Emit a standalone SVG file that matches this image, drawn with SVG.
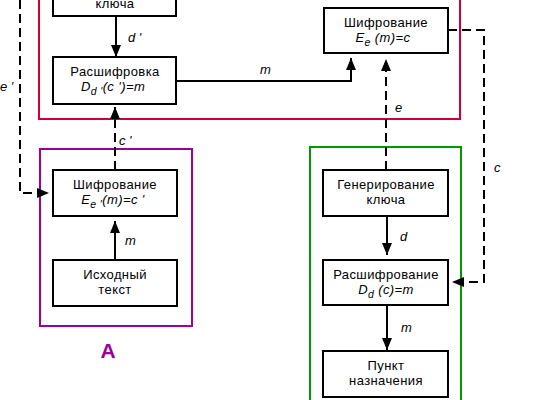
<svg xmlns="http://www.w3.org/2000/svg" width="550" height="400" viewBox="0 0 550 400">
<style>
.box{fill:#fff;stroke:#000;stroke-width:2}
.t{font-family:"Liberation Sans",Arial,sans-serif;font-size:13px;letter-spacing:0.4px;fill:#000;text-anchor:middle}
.i{font-style:italic}
.lbl{font-family:"Liberation Sans",Arial,sans-serif;font-size:13px;font-style:italic;fill:#000}
.c{fill:none;stroke:#000;stroke-width:2}
.d{stroke-dasharray:9,5}
</style>
<defs>
<marker id="ah" viewBox="0 0 12 10" refX="12" refY="5" markerWidth="12" markerHeight="10" markerUnits="userSpaceOnUse" orient="auto">
<path d="M0,0 L12,5 L0,10 z" fill="#000"/>
</marker>
</defs>
<rect x="39" y="-10" width="421" height="129" fill="none" stroke="#cc0033" stroke-width="2"/>
<rect x="40" y="149" width="152" height="177" fill="none" stroke="#990099" stroke-width="2"/>
<rect x="310" y="147" width="151" height="263" fill="none" stroke="#009900" stroke-width="2"/>
<text x="108" y="358" font-family="Liberation Sans,Arial,sans-serif" font-size="21" font-weight="bold" fill="#990099" text-anchor="middle">A</text>
<g id="connectors">
<path class="c" d="M116,16 V57" marker-end="url(#ah)"/>
<path class="c" d="M176,81 H351 V58" marker-end="url(#ah)"/>
<path class="c d" d="M386,170 V59" marker-end="url(#ah)"/>
<path class="c d" d="M448,30 H484 V282 H452" marker-end="url(#ah)"/>
<path class="c d" d="M20,0 V193 H49" marker-end="url(#ah)"/>
<path class="c d" d="M115,170 V107" marker-end="url(#ah)"/>
<path class="c" d="M115,260 V221" marker-end="url(#ah)"/>
<path class="c" d="M387,216 V255" marker-end="url(#ah)"/>
<path class="c" d="M387,305 V350" marker-end="url(#ah)"/>
<text class="lbl" x="128" y="42">d '</text>
<text class="lbl" x="260" y="74">m</text>
<text class="lbl" x="395" y="112">e</text>
<text class="lbl" x="494" y="172">c</text>
<text class="lbl" x="0" y="91">e '</text>
<text class="lbl" x="119" y="145">c '</text>
<text class="lbl" x="125" y="245">m</text>
<text class="lbl" x="400" y="241">d</text>
<text class="lbl" x="401" y="332">m</text>
</g>
<g id="keygenA">
<rect class="box" x="53" y="-30" width="123" height="46"/>
<text class="t" x="115" y="8">ключа</text>
</g>
<g id="decryptB">
<rect class="box" x="53" y="57" width="123" height="47"/>
<text class="t" x="115" y="76">Расшифровка</text>
<text class="t i" x="113" y="91">D<tspan font-size="10.5" dy="4">d '</tspan><tspan dy="-4">(c ')=m</tspan></text>
</g>
<g id="encryptB">
<rect class="box" x="324" y="8" width="124" height="45"/>
<text class="t" x="386" y="27">Шифрование</text>
<text class="t i" x="383" y="42">E<tspan font-size="10.5" dy="4">e</tspan><tspan dy="-4"> (m)=c</tspan></text>
</g>
<g id="encryptA">
<rect class="box" x="53" y="170" width="124" height="46"/>
<text class="t" x="115" y="189">Шифрование</text>
<text class="t i" x="113" y="204">E<tspan font-size="10.5" dy="4">e '</tspan><tspan dy="-4">(m)=c '</tspan></text>
</g>
<g id="source">
<rect class="box" x="53" y="260" width="124" height="46"/>
<text class="t" x="115" y="279">Исходный</text>
<text class="t" x="115" y="294">текст</text>
</g>
<g id="keygen">
<rect class="box" x="323" y="170" width="125" height="46"/>
<text class="t" x="386" y="189">Генерирование</text>
<text class="t" x="386" y="204">ключа</text>
</g>
<g id="decrypt">
<rect class="box" x="323" y="260" width="125" height="45"/>
<text class="t" x="386" y="279">Расшифрование</text>
<text class="t i" x="386" y="294">D<tspan font-size="10.5" dy="4">d</tspan><tspan dy="-4"> (c)=m</tspan></text>
</g>
<g id="dest">
<rect class="box" x="323" y="351" width="125" height="46"/>
<text class="t" x="386" y="370">Пункт</text>
<text class="t" x="386" y="385">назначения</text>
</g>
</svg>
